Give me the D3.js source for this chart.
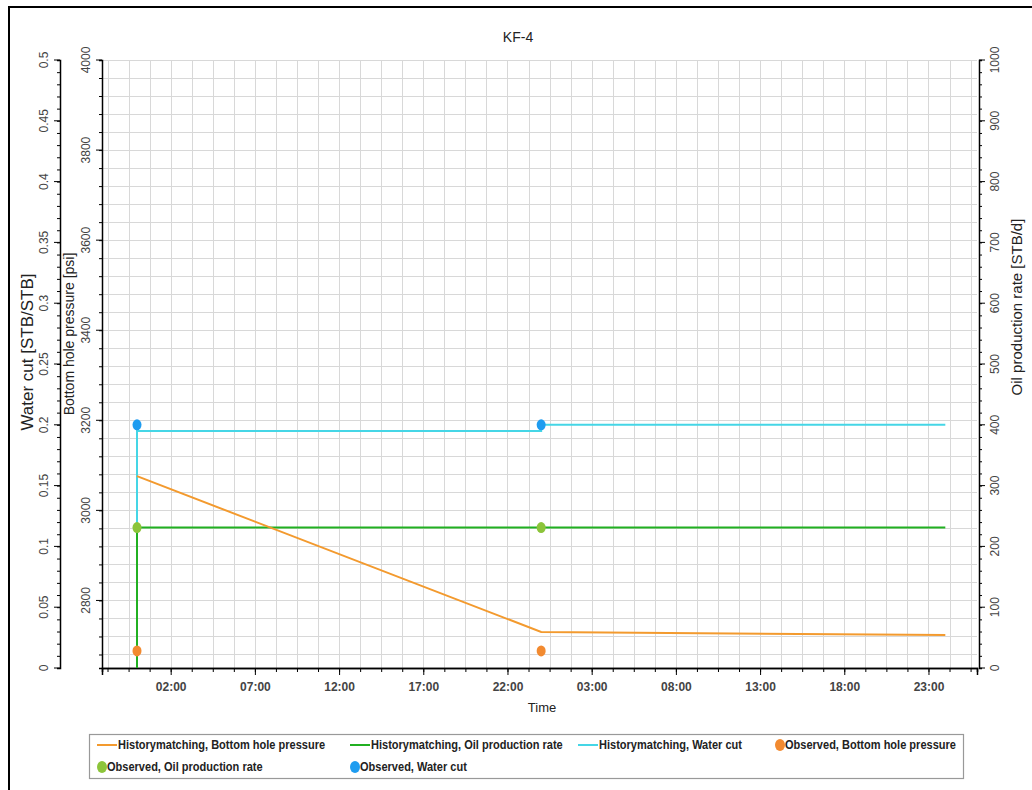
<!DOCTYPE html>
<meta charset="utf-8">
<html>
<head>
<title>KF-4</title>
<style>
  body { margin: 0; background: #fff; }
  text { font-family: "Liberation Sans", Arial, sans-serif; }
</style>
</head>
<body>
<div id="chart"></div>
<script src="https://d3js.org/d3.v7.min.js"></script>
<script>

// data (hours after the first day's 00:00)
var bhpSimHours = [0, 24, 48];
var bhpSimValues = [3076, 2730, 2723];
var oilSimHours = [0, 0, 48];
var oilSimValues = [0, 231, 231];
var wcutSimHours = [0, 0, 24, 24, 48];
var wcutSimValues = [0, 0.195, 0.195, 0.2, 0.2];
var obsHours = [0, 24];
var bhpObsValues = [2688, 2688];
var oilObsValues = [231, 231];
var wcutObsValues = [0.2, 0.2];

var majorTickHours = [2, 7, 12, 17, 22, 27, 32, 37, 42, 47];
var pressureTicks = [2800, 3000, 3200, 3400, 3600, 3800, 4000];
var wcutTicks = [0, 0.05, 0.1, 0.15, 0.2, 0.25, 0.3, 0.35, 0.4, 0.45, 0.5];
var oilTicks = [0, 100, 200, 300, 400, 500, 600, 700, 800, 900, 1000];

var legendItems = [
  {name: "Historymatching, Bottom hole pressure", color: "#f39a2e", type: "line"},
  {name: "Historymatching, Oil production rate", color: "#21b021", type: "line"},
  {name: "Historymatching, Water cut", color: "#45d6e6", type: "line"},
  {name: "Observed, Bottom hole pressure", color: "#f28a30", type: "dot"},
  {name: "Observed, Oil production rate", color: "#8cc43a", type: "dot"},
  {name: "Observed, Water cut", color: "#1e9cf0", type: "dot"}
];

var W = 1032, H = 790;
var pLeft = 102, pRight = 977, pTop = 60, pBottom = 668;

var t0 = new Date(2021, 0, 1, 0, 0);
function hr(h) { return new Date(t0.getTime() + h * 3600000); }

var svg = d3.select("#chart").append("svg")
  .attr("width", W).attr("height", H);

svg.append("rect").attr("width", W).attr("height", H).attr("fill", "#fff");

// outer frame
svg.append("rect")
  .attr("x", 9).attr("y", 7).attr("width", 1100).attr("height", 900)
  .attr("fill", "none").attr("stroke", "#000").attr("stroke-width", 2);

var x = d3.scaleTime()
  .domain([hr(-35 / 16.84), hr(840 / 16.84)])
  .range([pLeft, pRight]);
var yP = d3.scaleLinear().domain([2650, 4000]).range([pBottom, pTop]);
var yW = d3.scaleLinear().domain([0, 0.5]).range([pBottom, pTop]);
var yO = d3.scaleLinear().domain([0, 1000]).range([pBottom, pTop]);

var minorHours = d3.range(-1.75, 49.9, 1.25);
var pMinor = d3.range(2680, 4001, 40);

// grid
var grid = svg.append("g").attr("stroke", "#d8d8d8").attr("stroke-width", 1);
grid.selectAll(".vg").data(minorHours).enter().append("line")
  .attr("x1", function(d) { return Math.round(x(hr(d))) + 0.5; })
  .attr("x2", function(d) { return Math.round(x(hr(d))) + 0.5; })
  .attr("y1", pTop).attr("y2", pBottom);
grid.selectAll(".hg").data(pMinor).enter().append("line")
  .attr("y1", function(d) { return Math.round(yP(d)) + 0.5; })
  .attr("y2", function(d) { return Math.round(yP(d)) + 0.5; })
  .attr("x1", pLeft).attr("x2", pRight);

// bottom axis
var xAxis = svg.append("g").attr("transform", "translate(0," + pBottom + ")");
xAxis.call(d3.axisBottom(x).tickValues(minorHours.map(hr)).tickSize(4).tickFormat(""));
xAxis.append("g").call(d3.axisBottom(x).tickValues(majorTickHours.map(hr)).tickSize(7)
  .tickFormat(d3.timeFormat("%H:%M")));
xAxis.selectAll("path.domain").attr("stroke", "#000").attr("stroke-width", 1.5);
xAxis.selectAll("text").attr("font-size", 12).attr("font-weight", "bold")
  .attr("fill", "#444").attr("dy", "1.1em");

function vertAxis(gen, scale, minor, major, fmt, xpos, side) {
  var g = svg.append("g").attr("transform", "translate(" + xpos + ",0)");
  g.call(gen(scale).tickValues(minor).tickSize(3).tickFormat(""));
  var gm = g.append("g").call(gen(scale).tickValues(major).tickSize(6).tickFormat(fmt));
  gm.select("path.domain").remove();
  g.selectAll("path.domain").attr("stroke", "#000").attr("stroke-width", 1.5);
  g.selectAll("line").attr("stroke", "#000");
  // place rotated labels in the axis's own coordinates
  gm.selectAll(".tick text").each(function(d) {
    var cy = scale(d);
    d3.select(this.parentNode).attr("transform", null);
    d3.select(this.parentNode).select("line")
      .attr("y1", cy).attr("y2", cy);
    d3.select(this)
      .attr("x", 0).attr("y", 0).attr("dy", "0.35em")
      .attr("text-anchor", "middle")
      .attr("transform", "translate(" + (side * 16) + "," + cy + ") rotate(-90)")
      .attr("font-size", 12).attr("fill", "#444");
  });
  return g;
}

vertAxis(d3.axisLeft, yW, d3.range(0, 0.501, 0.01), wcutTicks, d3.format("~g"), 60, -1);
vertAxis(d3.axisLeft, yP, pMinor, pressureTicks, d3.format("d"), pLeft, -1);
vertAxis(d3.axisRight, yO, d3.range(0, 1001, 20), oilTicks, d3.format("d"), 979, 1);

// axis titles
svg.append("text").attr("transform", "translate(33,352) rotate(-90)")
  .attr("text-anchor", "middle").attr("font-size", 17).attr("fill", "#222")
  .text("Water cut [STB/STB]");
svg.append("text").attr("transform", "translate(74,334) rotate(-90)")
  .attr("text-anchor", "middle").attr("font-size", 14).attr("fill", "#222")
  .text("Bottom hole pressure [psi]");
svg.append("text").attr("transform", "translate(1022,307) rotate(-90)")
  .attr("text-anchor", "middle").attr("font-size", 15).attr("fill", "#222")
  .text("Oil production rate [STB/d]");
svg.append("text").attr("x", 518).attr("y", 42).attr("text-anchor", "middle")
  .attr("font-size", 14).attr("fill", "#222").text("KF-4");
svg.append("text").attr("x", 542).attr("y", 712).attr("text-anchor", "middle")
  .attr("font-size", 13).attr("fill", "#222").text("Time");

// simulated lines
function drawLine(hours, values, scale, color) {
  var pts = hours.map(function(h, i) { return [h, values[i]]; });
  svg.append("path").datum(pts)
    .attr("fill", "none").attr("stroke", color).attr("stroke-width", 2)
    .attr("d", d3.line()
      .x(function(d) { return x(hr(d[0])); })
      .y(function(d) { return scale(d[1]); }));
}
drawLine(wcutSimHours, wcutSimValues, yW, legendItems[2].color);
drawLine(oilSimHours, oilSimValues, yO, legendItems[1].color);
drawLine(bhpSimHours, bhpSimValues, yP, legendItems[0].color);

// observed points
function drawDots(values, scale, color) {
  svg.selectAll(null).data(obsHours).enter().append("ellipse")
    .attr("cx", function(d) { return x(hr(d)); })
    .attr("cy", function(d, i) { return scale(values[i]); })
    .attr("rx", 4.5).attr("ry", 5.5)
    .attr("fill", color);
}
drawDots(bhpObsValues, yP, legendItems[3].color);
drawDots(oilObsValues, yO, legendItems[4].color);
drawDots(wcutObsValues, yW, legendItems[5].color);

// legend
svg.append("rect").attr("x", 89.5).attr("y", 734.5).attr("width", 874).attr("height", 44)
  .attr("fill", "#fff").attr("stroke", "#999").attr("stroke-width", 1.2);
var legPos = [[97, 745], [350, 745], [578, 745], [775, 745], [97, 767], [350, 767]];
legendItems.forEach(function(item, i) {
  var p = legPos[i];
  var g = svg.append("g").attr("transform", "translate(" + p[0] + "," + p[1] + ")");
  var tx;
  if (item.type == "line") {
    g.append("line").attr("x1", 0).attr("x2", 20).attr("y1", 0).attr("y2", 0)
      .attr("stroke", item.color).attr("stroke-width", 2);
    tx = 21;
  } else {
    g.append("ellipse").attr("cx", 5).attr("cy", 0).attr("rx", 5).attr("ry", 6)
      .attr("fill", item.color);
    tx = 10;
  }
  g.append("text").attr("transform", "translate(" + tx + ",0) scale(0.92,1)")
    .attr("dy", "0.35em")
    .attr("font-size", 12).attr("font-weight", "bold").attr("fill", "#222")
    .text(item.name);
});

</script>
</body>
</html>
